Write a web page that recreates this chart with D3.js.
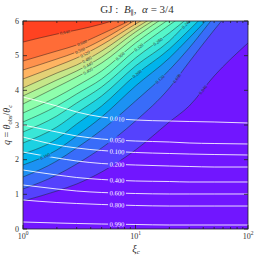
<!DOCTYPE html>
<html><head><meta charset="utf-8">
<script src="https://cdn.jsdelivr.net/npm/d3@7"></script>
<style>body{margin:0;background:#fff}svg{display:block}</style>
</head><body>
<svg id="c" width="258" height="258"></svg>
<script>
// ---------------- data ----------------
const xiGrid = [1, 2, 3, 5, 10, 20, 30, 50, 100];
const bandBounds = [0,0.04,0.08,0.12,0.16,0.20,0.24,0.28,0.32,0.36,0.40,0.44,0.48,0.52,0.56,0.60,0.64,0.68];
const colorMax = 0.72;
const contourLevels = [0.04,0.08,0.12,0.16,0.20,0.24,0.28,0.32,0.36,0.40,0.44,0.48,0.52,0.56,0.60,0.64];
// q of each black contour at xiGrid (last point may lie beyond the top edge)
const contourQ = [
 [0.808,1.096,1.298,1.644,2.279,3.087,3.548,4.413,5.365],
 [1.154,1.558,1.875,2.337,3.115,4.067,4.817,5.740,6.894],
 [1.500,1.962,2.337,2.856,3.692,4.587,5.221,6.115,7.183],
 [1.846,2.279,2.683,3.231,4.125,4.933,5.510,6.260,7.327],
 [2.163,2.596,3.029,3.548,4.442,5.192,5.740,6.462],
 [2.481,2.942,3.346,3.837,4.702,5.423,6.000,6.606],
 [2.798,3.260,3.635,4.096,4.933,5.654,6.115],
 [3.087,3.548,3.894,4.327,5.163,5.885,6.288],
 [3.346,3.808,4.125,4.558,5.365,6.058,6.462],
 [3.606,4.096,4.385,4.788,5.538,6.202],
 [3.837,4.298,4.558,4.962,5.683,6.288],
 [4.067,4.500,4.731,5.135,5.798,6.375],
 [4.327,4.702,4.933,5.308,5.913,6.462],
 [4.587,4.904,5.106,5.452,6.029,6.606],
 [4.846,5.135,5.308,5.625,6.087],
 [5.394,5.625,5.740,5.913,6.231]
];
const contourLabelXi = [39.8,23.4,16.5,1.57,10.3,28.1,15.8,10.7,7.28,3.78,3.78,3.71,3.56,3.21,3.35,2.36];
const whiteLevels = [0.01,0.05,0.1,0.2,0.4,0.6,0.8,0.99];
const whiteQ = [
 [3.808,3.548,3.375,3.231,3.144,3.115,3.101,3.087,3.058],
 [3.000,2.798,2.683,2.596,2.538,2.510,2.481,2.466,2.452],
 [2.654,2.423,2.337,2.264,2.207,2.178,2.163,2.149,2.135],
 [2.221,2.048,1.962,1.889,1.846,1.817,1.803,1.788,1.788],
 [1.702,1.558,1.486,1.428,1.385,1.370,1.356,1.356,1.356],
 [1.269,1.154,1.096,1.053,1.024,1.010,1.010,1.010,1.010],
 [0.837,0.764,0.736,0.707,0.678,0.663,0.663,0.663,0.663],
 [0.202,0.173,0.159,0.144,0.130,0.115,0.115,0.115,0.115]
];
const whiteLabelXi = 6.85;
const yTicks = [0,1,2,3,4,5,6];
const xMajor = [1,10,100];
const xMajorExp = ["0","1","2"];
const xMinor = [2,3,4,5,6,7,8,9,20,30,40,50,60,70,80,90];

// ---------------- layout ----------------
const W=258,H=258;
const m={l:23,r:248,t:21,b:229};
const x=d3.scaleLog().domain([1,100]).range([m.l,m.r]);
const y=d3.scaleLinear().domain([0,6]).range([m.b,m.t]);
const svg=d3.select('#c');
const defs=svg.append('defs');
defs.append('clipPath').attr('id','clip').append('rect')
  .attr('x',m.l).attr('y',m.t).attr('width',m.r-m.l).attr('height',m.b-m.t);
const mask=defs.append('mask').attr('id','lblmask').attr('maskUnits','userSpaceOnUse')
  .attr('x',0).attr('y',0).attr('width',W).attr('height',H);
mask.append('rect').attr('width',W).attr('height',H).attr('fill','white');

const rainbow=t=>{const r=Math.min(1,Math.abs(2*t-0.5)),g=Math.sin(Math.PI*t),b=Math.cos(Math.PI*t/2);
  return d3.rgb(r*255,g*255,b*255).toString();};
const bandColor=k=>rainbow((bandBounds[k]+bandBounds[k+1])/2/colorMax);

const line=d3.line().x(d=>x(d[0])).y(d=>y(d[1])).curve(d3.curveMonotoneX);
const pts=qs=>qs.map((q,j)=>[xiGrid[j],q]);

const plot=svg.append('g').attr('clip-path','url(#clip)');
plot.append('rect').attr('x',m.l).attr('y',m.t).attr('width',m.r-m.l).attr('height',m.b-m.t)
  .attr('fill',bandColor(0));
contourQ.forEach((qs,i)=>{
  const p=pts(qs);
  const last=p[p.length-1];
  const d=line(p)+`L${x(last[0])+40},${-100}L${-100},${-100}L${-100},${y(p[0][1])}Z`;
  plot.append('path').attr('d',d).attr('fill',bandColor(i+1)).attr('stroke',bandColor(i+1)).attr('stroke-width',0.3);
});
const lines=plot.append('g').attr('mask','url(#lblmask)');
const blackPaths=contourQ.map(qs=>lines.append('path').attr('d',line(pts(qs)))
  .attr('fill','none').attr('stroke','#1a1a1a').attr('stroke-opacity',0.75).attr('stroke-width',0.6).node());
const whitePaths=whiteQ.map(qs=>lines.append('path').attr('d',line(pts(qs)))
  .attr('fill','none').attr('stroke','#fff').attr('stroke-opacity',0.85).attr('stroke-width',1).node());

function pointAtX(node,tx){
  let lo=0,hi=node.getTotalLength();
  for(let i=0;i<40;i++){const mid=(lo+hi)/2; if(node.getPointAtLength(mid).x<tx) lo=mid; else hi=mid;}
  const L=(lo+hi)/2,p=node.getPointAtLength(L);
  const p1=node.getPointAtLength(Math.max(0,L-3)),p2=node.getPointAtLength(L+3);
  return {x:p.x,y:p.y,a:Math.atan2(p2.y-p1.y,p2.x-p1.x)*180/Math.PI};
}
const fmt=d3.format('.3f');
const labels=svg.append('g').attr('clip-path','url(#clip)').style('font-family','"Liberation Serif","DejaVu Serif",serif');
function addLabel(node,xi,txt,size,color,pad){
  const p=pointAtX(node,x(xi));
  const t=labels.append('text').attr('transform',`translate(${p.x},${p.y}) rotate(${p.a})`)
    .attr('text-anchor','middle').attr('dy','0.35em').attr('font-size',size).attr('fill',color).text(txt);
  const w=t.node().getComputedTextLength()+pad;
  mask.append('rect').attr('x',-w/2).attr('y',-size*0.6).attr('width',w).attr('height',size*1.2)
    .attr('transform',`translate(${p.x},${p.y}) rotate(${p.a})`).attr('fill','black');
}
blackPaths.forEach((n,i)=>addLabel(n,contourLabelXi[i],fmt(contourLevels[i]),4.6,'#2a2a2a',2));
whitePaths.forEach((n,i)=>addLabel(n,whiteLabelXi,fmt(whiteLevels[i]),6.6,'#ffffff',3));

// ---------------- axes ----------------
const ax=svg.append('g').attr('stroke','#222').attr('stroke-width',0.8);
yTicks.forEach(v=>{
  ax.append('line').attr('x1',m.l).attr('x2',m.l+4).attr('y1',y(v)).attr('y2',y(v));
  ax.append('line').attr('x1',m.r).attr('x2',m.r-4).attr('y1',y(v)).attr('y2',y(v));
});
xMajor.forEach(v=>{
  ax.append('line').attr('x1',x(v)).attr('x2',x(v)).attr('y1',m.b).attr('y2',m.b-4);
  ax.append('line').attr('x1',x(v)).attr('x2',x(v)).attr('y1',m.t).attr('y2',m.t+4);
});
xMinor.forEach(v=>{
  ax.append('line').attr('x1',x(v)).attr('x2',x(v)).attr('y1',m.b).attr('y2',m.b-2);
  ax.append('line').attr('x1',x(v)).attr('x2',x(v)).attr('y1',m.t).attr('y2',m.t+2);
});
ax.append('rect').attr('x',m.l).attr('y',m.t).attr('width',m.r-m.l).attr('height',m.b-m.t).attr('fill','none');

const txt=svg.append('g').style('font-family','"Liberation Serif","DejaVu Serif",serif').attr('fill','#333');
yTicks.forEach(v=>txt.append('text').attr('x',m.l-4).attr('y',y(v)).attr('dy','0.33em')
  .attr('text-anchor','end').attr('font-size',8).text(v));
xMajor.forEach((v,i)=>{
  const t=txt.append('text').attr('x',x(v)).attr('y',238.5).attr('text-anchor','middle').attr('font-size',8);
  t.append('tspan').text('10');
  t.append('tspan').attr('dy',-3.5).attr('font-size',5.5).text(xMajorExp[i]);
});
// title
const ti=txt.append('text').attr('x',137).attr('y',13).attr('text-anchor','middle').attr('font-size',11);
ti.append('tspan').text('GJ :\u00a0\u00a0');
ti.append('tspan').attr('font-style','italic').text('B');
ti.append('tspan').attr('dy',2).attr('font-size',7).text('∥');
ti.append('tspan').attr('dy',-2).text(',\u00a0\u00a0');
ti.append('tspan').attr('font-style','italic').text('α');
ti.append('tspan').text(' = 3/4');
// y label
const yl=txt.append('text').attr('transform',`translate(10,${(m.t+m.b)/2}) rotate(-90)`)
  .attr('text-anchor','middle').attr('font-size',10);
yl.append('tspan').attr('font-style','italic').text('q');
yl.append('tspan').text(' = ');
yl.append('tspan').attr('font-style','italic').text('θ');
yl.append('tspan').attr('dy',2).attr('font-size',6.5).text('obs');
yl.append('tspan').attr('dy',-2).text('/');
yl.append('tspan').attr('font-style','italic').text('θ');
yl.append('tspan').attr('dy',2).attr('font-size',6.5).attr('font-style','italic').text('c');
// x label
const xl=txt.append('text').attr('x',136).attr('y',251.5).attr('text-anchor','middle').attr('font-size',10.5);
xl.append('tspan').attr('font-style','italic').text('ξ');
xl.append('tspan').attr('dy',2).attr('font-size',7).attr('font-style','italic').text('c');
</script>
</body></html>
